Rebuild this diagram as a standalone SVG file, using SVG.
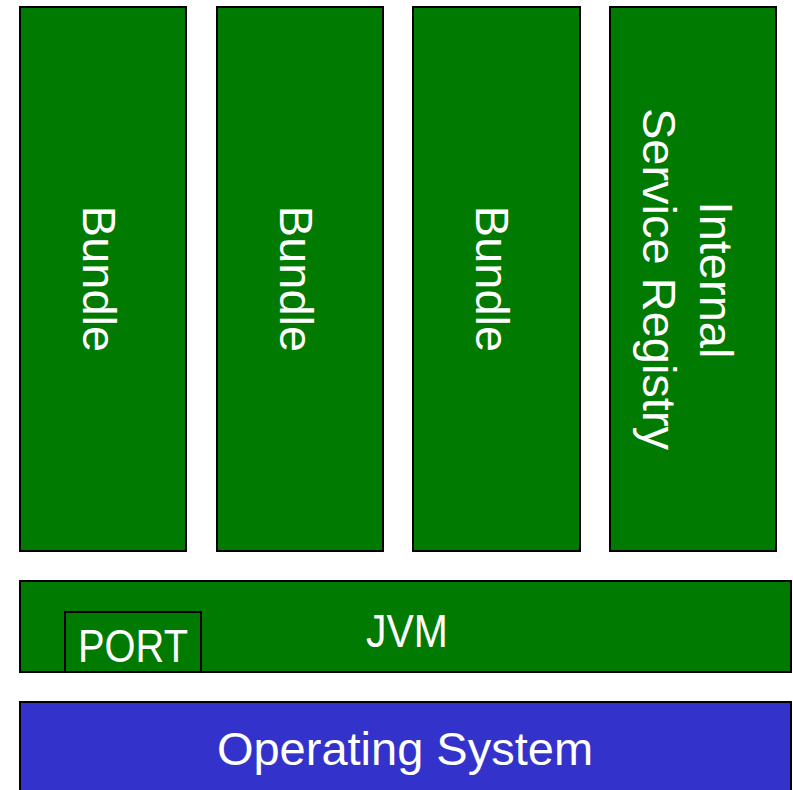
<svg xmlns="http://www.w3.org/2000/svg" width="793" height="790" viewBox="0 0 793 790">
<style>
.g{fill:#007a00;stroke:#000;stroke-width:2}
.b{fill:#3333cc;stroke:#000;stroke-width:2}
.t{font-family:"Liberation Sans",Arial,sans-serif;font-size:47px;fill:#fff;text-anchor:middle}
</style>
<rect width="793" height="790" fill="#fff"/>
<g id="bundle1">
<rect class="g" x="20" y="7" width="166" height="544"/>
<text class="t" transform="translate(83,279) rotate(90)">Bundle</text>
</g>
<g id="bundle2">
<rect class="g" x="217" y="7" width="166" height="544"/>
<text class="t" transform="translate(280,279) rotate(90)">Bundle</text>
</g>
<g id="bundle3">
<rect class="g" x="413" y="7" width="167" height="544"/>
<text class="t" transform="translate(476,279) rotate(90)">Bundle</text>
</g>
<g id="registry">
<rect class="g" x="610" y="7" width="166" height="544"/>
<text class="t" transform="translate(700,280) rotate(90)">Internal</text>
<text class="t" transform="translate(643,279) rotate(90)">Service Registry</text>
</g>
<g id="jvm">
<rect class="g" x="20" y="581" width="771" height="91"/>
<text class="t" x="407" y="647" textLength="82" lengthAdjust="spacingAndGlyphs">JVM</text>
</g>
<g id="port">
<rect class="g" x="65" y="612" width="136" height="60"/>
<text class="t" x="133" y="662" textLength="110" lengthAdjust="spacingAndGlyphs">PORT</text>
</g>
<g id="os">
<rect class="b" x="20" y="702" width="771" height="100"/>
<text class="t" x="405" y="765">Operating System</text>
</g>
<g id="connectors"/>
</svg>
